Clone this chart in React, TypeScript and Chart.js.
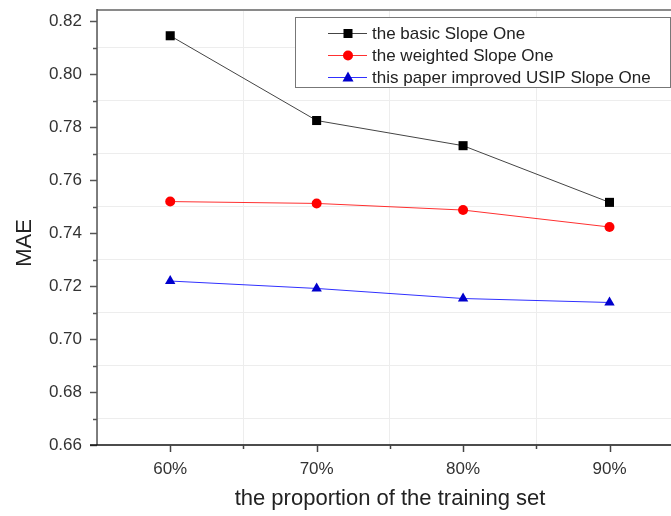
import React, { useEffect, useRef } from 'react';
import { Chart, registerables } from 'chart.js';

Chart.register(...registerables);

const proportions = [60, 70, 80, 90];
const basicSlopeOne = [0.8145, 0.7825, 0.773, 0.7516];
const weightedSlopeOne = [0.7519, 0.7512, 0.7487, 0.7423];
const usipSlopeOne = [0.7219, 0.7191, 0.7153, 0.7138];
const seriesLabels = [
  'the basic Slope One',
  'the weighted Slope One',
  'this paper improved USIP Slope One',
];
const yTickValues = [0.66, 0.67, 0.68, 0.69, 0.7, 0.71, 0.72, 0.73, 0.74, 0.75, 0.76, 0.77, 0.78, 0.79, 0.8, 0.81, 0.82];
const xTickValues = [55, 60, 65, 70, 75, 80, 85, 90];
const xTitle = 'the proportion of the training set';
const yTitle = 'MAE';

const FONT = '"Liberation Sans", Arial, sans-serif';

const isMajorY = (v: number) => Math.round(v * 100) % 2 === 0;
const isMajorX = (v: number) => Math.round(v) % 10 === 0;

function drawMarker(ctx: CanvasRenderingContext2D, style: string, x: number, y: number, color: string) {
  ctx.save();
  ctx.fillStyle = color;
  ctx.beginPath();
  if (style === 'rect') {
    ctx.rect(x - 4.5, y - 4.5, 9, 9);
  } else if (style === 'circle') {
    ctx.arc(x, y, 5, 0, Math.PI * 2);
  } else {
    ctx.moveTo(x, y - 6);
    ctx.lineTo(x + 5.5, y + 4);
    ctx.lineTo(x - 5.5, y + 4);
    ctx.closePath();
  }
  ctx.fill();
  ctx.restore();
}

const zeroPad = (s: any) => {
  s.paddingTop = 0;
  s.paddingBottom = 0;
  s.paddingLeft = 0;
  s.paddingRight = 0;
};

const decorPlugin = {
  id: 'decor',
  afterDraw(chart: any) {
    const ctx: CanvasRenderingContext2D = chart.ctx;
    const { left, right, top, bottom } = chart.chartArea;
    const xs = chart.scales.x;
    const ys = chart.scales.y;
    ctx.save();
    // top frame
    ctx.strokeStyle = '#8a8a8a';
    ctx.lineWidth = 2;
    ctx.beginPath();
    ctx.moveTo(left, top + 1);
    ctx.lineTo(right, top + 1);
    ctx.stroke();
    // left axis
    ctx.strokeStyle = '#555';
    ctx.lineWidth = 1.5;
    ctx.beginPath();
    ctx.moveTo(left, top);
    ctx.lineTo(left, bottom);
    ctx.stroke();
    // y ticks
    yTickValues.forEach((v) => {
      const py = Math.round(ys.getPixelForValue(v)) + 0.5;
      const len = isMajorY(v) ? 7 : 4;
      ctx.beginPath();
      ctx.moveTo(left - len, py);
      ctx.lineTo(left, py);
      ctx.stroke();
    });
    // bottom axis
    ctx.strokeStyle = '#111';
    ctx.lineWidth = 1.5;
    ctx.beginPath();
    ctx.moveTo(left - 7, bottom);
    ctx.lineTo(right, bottom);
    ctx.stroke();
    ctx.strokeStyle = '#444';
    xTickValues.forEach((v) => {
      if (v === 55) return;
      const px = Math.round(xs.getPixelForValue(v)) + 0.5;
      const len = isMajorX(v) ? 7 : 4;
      ctx.beginPath();
      ctx.moveTo(px, bottom);
      ctx.lineTo(px, bottom + len);
      ctx.stroke();
    });
    // titles
    ctx.fillStyle = '#222';
    ctx.font = `22px ${FONT}`;
    ctx.textAlign = 'center';
    ctx.textBaseline = 'middle';
    ctx.fillText(xTitle, 390, 499);
    ctx.save();
    ctx.translate(25, 243);
    ctx.rotate(-Math.PI / 2);
    ctx.fillText(yTitle, 0, 0);
    ctx.restore();
    // legend
    ctx.fillStyle = '#fff';
    ctx.fillRect(295.5, 17.5, 375, 70);
    ctx.strokeStyle = '#777';
    ctx.lineWidth = 1;
    ctx.strokeRect(295.5, 17.5, 375, 70);
    const rows = [33, 55, 77];
    chart.data.datasets.forEach((ds: any, i: number) => {
      const y = rows[i];
      ctx.strokeStyle = ds.borderColor;
      ctx.lineWidth = 1;
      ctx.beginPath();
      ctx.moveTo(328, y + 0.5);
      ctx.lineTo(367, y + 0.5);
      ctx.stroke();
      drawMarker(ctx, ds.pointStyle, 348, y + 0.5, ds.pointBackgroundColor);
      ctx.fillStyle = '#222';
      ctx.font = `17px ${FONT}`;
      ctx.textAlign = 'left';
      ctx.textBaseline = 'middle';
      ctx.fillText(ds.label, 372, y + 1);
    });
    ctx.restore();
  },
};

export default function App() {
  const ref = useRef<HTMLCanvasElement>(null);
  useEffect(() => {
    document.body.style.margin = '0';
    const mk = (vals: number[]) => proportions.map((x, i) => ({ x, y: vals[i] }));
    const chart = new Chart(ref.current as HTMLCanvasElement, {
      type: 'line',
      data: {
        datasets: [
          {
            label: seriesLabels[0],
            data: mk(basicSlopeOne),
            borderColor: '#444',
            borderWidth: 1,
            pointStyle: 'rect',
            pointRadius: 6.4,
            pointBackgroundColor: '#000',
            pointBorderWidth: 0,
          },
          {
            label: seriesLabels[1],
            data: mk(weightedSlopeOne),
            borderColor: '#ff3030',
            borderWidth: 1,
            pointStyle: 'circle',
            pointRadius: 5,
            pointBackgroundColor: '#ff0000',
            pointBorderWidth: 0,
          },
          {
            label: seriesLabels[2],
            data: mk(usipSlopeOne),
            borderColor: '#3030ff',
            borderWidth: 1,
            pointStyle: 'triangle',
            pointRadius: 6,
            pointBackgroundColor: '#0000cc',
            pointBorderWidth: 0,
          },
        ] as any,
      },
      options: {
        animation: false,
        responsive: false,
        devicePixelRatio: 1,
        layout: { autoPadding: false, padding: { top: 9, left: 0, right: 0, bottom: 0 } },
        plugins: { legend: { display: false }, tooltip: { enabled: false } },
        scales: {
          x: {
            type: 'linear',
            min: 55,
            max: 94.2,
            afterBuildTicks: (s: any) => {
              s.ticks = xTickValues.map((value) => ({ value }));
            },
            afterFit: (s: any) => {
              s.height = 71;
              zeroPad(s);
            },
            border: { display: false },
            grid: {
              drawTicks: false,
              color: (c: any) => (c.tick && !isMajorX(c.tick.value) ? '#ededed' : 'rgba(0,0,0,0)'),
            },
            ticks: {
              autoSkip: false,
              maxRotation: 0,
              padding: 14,
              color: '#333',
              font: { family: FONT, size: 17 },
              callback: (v: any) => (isMajorX(Number(v)) && Number(v) !== 55 ? `${v}%` : ''),
            },
          },
          y: {
            type: 'linear',
            min: 0.66,
            max: 0.8246,
            afterBuildTicks: (s: any) => {
              s.ticks = yTickValues.map((value) => ({ value }));
            },
            afterFit: (s: any) => {
              s.width = 97;
              zeroPad(s);
            },
            border: { display: false },
            grid: {
              drawTicks: false,
              color: (c: any) => (c.tick && !isMajorY(c.tick.value) ? '#ededed' : 'rgba(0,0,0,0)'),
            },
            ticks: {
              autoSkip: false,
              padding: 15,
              color: '#333',
              font: { family: FONT, size: 17 },
              callback: (v: any) => (isMajorY(Number(v)) ? Number(v).toFixed(2) : ''),
            },
          },
        },
      },
      plugins: [decorPlugin],
    });
    return () => chart.destroy();
  }, []);
  return <canvas ref={ref} width={671} height={516} style={{ display: 'block' }} />;
}
